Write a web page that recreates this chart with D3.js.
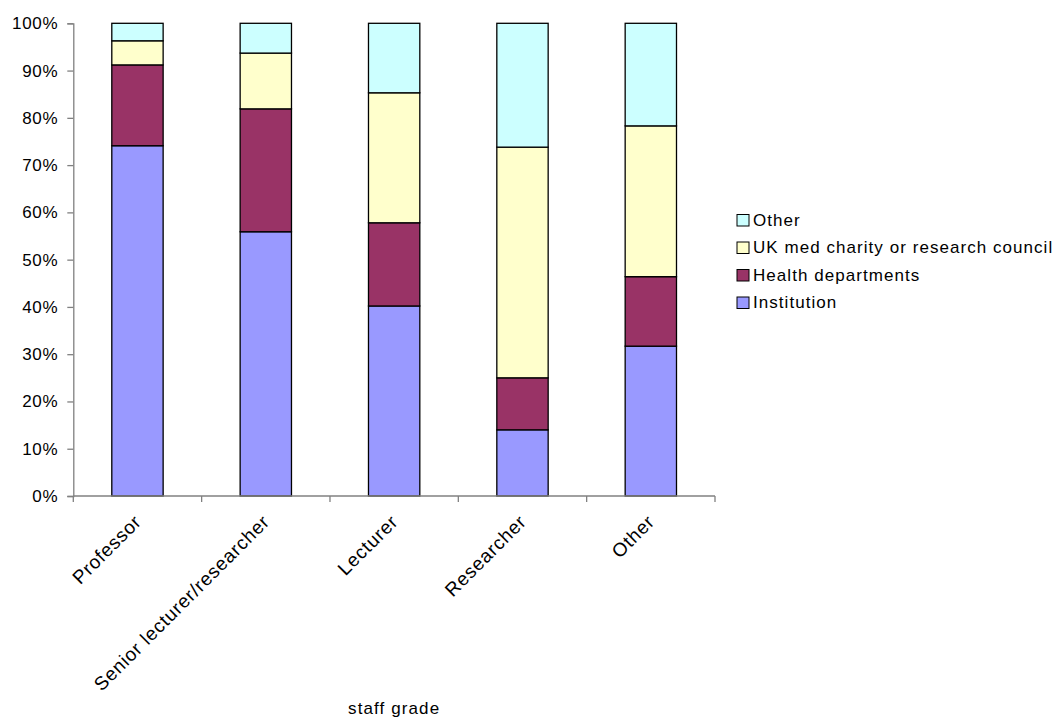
<!DOCTYPE html>
<html>
<head>
<meta charset="utf-8">
<script src="https://cdn.jsdelivr.net/npm/d3@7"></script>
<style>
  html, body { margin: 0; padding: 0; background: #fff; }
  svg { display: block; font-family: "Liberation Sans", Arial, sans-serif; }
</style>
</head>
<body>
<svg id="chart" width="1056" height="719"></svg>
<script>
// Funding source shares (%) by staff grade
const grades = ["Professor", "Senior lecturer/researcher", "Lecturer", "Researcher", "Other"];
const institution = [74.1, 55.9, 40.2, 14.0, 31.7];
const healthDepts = [17.1, 26.0, 17.6, 11.0, 14.7];
const ukMedCharity = [5.1, 11.8, 27.5, 48.8, 31.9];
const otherSource = [3.7, 6.3, 14.7, 26.2, 21.7];
const seriesNames = ["Institution", "Health departments", "UK med charity or research council", "Other"];
const seriesColors = ["#9999FF", "#993366", "#FFFFCC", "#CCFFFF"];
const yTicks = [0, 10, 20, 30, 40, 50, 60, 70, 80, 90, 100];
const xTitle = "staff grade";

const rows = grades.map((g, i) => ({
  grade: g,
  "Institution": institution[i],
  "Health departments": healthDepts[i],
  "UK med charity or research council": ukMedCharity[i],
  "Other": otherSource[i]
}));

const svg = d3.select("#chart");
const plotLeft = 73.3, plotRight = 715, plotTop = 23.3, plotBottom = 496;

const x = d3.scaleBand().domain(grades).range([plotLeft, plotRight]).paddingInner(0.6).paddingOuter(0.3);
const y = d3.scaleLinear().domain([0, 100]).range([plotBottom, plotTop]);
const color = d3.scaleOrdinal().domain(seriesNames).range(seriesColors);

const stacked = d3.stack().keys(seriesNames)(rows);

// Stacked bars
svg.append("g").selectAll("g")
  .data(stacked)
  .join("g")
  .attr("fill", d => color(d.key))
  .selectAll("rect")
  .data(d => d)
  .join("rect")
  .attr("x", d => x(d.data.grade))
  .attr("y", d => y(d[1]))
  .attr("width", x.bandwidth())
  .attr("height", d => y(d[0]) - y(d[1]))
  .attr("stroke", "#000")
  .attr("stroke-width", 1.3);

// Y axis
const yAxis = svg.append("g")
  .attr("transform", `translate(${plotLeft},0)`)
  .call(d3.axisLeft(y).tickValues(yTicks).tickFormat(d => d + "%").tickSize(6).tickPadding(9));
yAxis.select(".domain").attr("stroke", "#808080").attr("stroke-width", 1.3);
yAxis.selectAll(".tick line").attr("stroke", "#808080").attr("stroke-width", 1.3);
yAxis.selectAll(".tick text")
  .attr("font-size", 17).attr("fill", "#000")
  .attr("letter-spacing", 0.7)
  .attr("font-family", "Liberation Sans, Arial, sans-serif");

// X axis: ticks at category boundaries
const boundaries = d3.range(grades.length + 1).map(i => plotLeft + i * (plotRight - plotLeft) / grades.length);
const xg = svg.append("g");
xg.append("line")
  .attr("x1", plotLeft).attr("x2", plotRight).attr("y1", plotBottom).attr("y2", plotBottom)
  .attr("stroke", "#808080").attr("stroke-width", 1.3);
xg.selectAll("line.tk").data(boundaries).join("line")
  .attr("class", "tk")
  .attr("x1", d => d).attr("x2", d => d)
  .attr("y1", plotBottom).attr("y2", plotBottom + 6)
  .attr("stroke", "#808080").attr("stroke-width", 1.3);

// Rotated category labels
xg.selectAll("text").data(grades).join("text")
  .attr("transform", d => `translate(${x(d) + x.bandwidth() / 2 + 5},${plotBottom + 27}) rotate(-45)`)
  .attr("text-anchor", "end")
  .attr("font-size", 19)
  .attr("letter-spacing", 0.75)
  .attr("fill", "#000")
  .text(d => d);

// Axis title
svg.append("text")
  .attr("x", (plotLeft + plotRight) / 2).attr("y", 714)
  .attr("text-anchor", "middle")
  .attr("font-size", 17)
  .attr("letter-spacing", 1.1)
  .attr("fill", "#000")
  .text(xTitle);

// Legend (top entry is the last stacked series)
const legendItems = seriesNames.slice().reverse();
const lg = svg.append("g").attr("transform", "translate(737,0)");
const li = lg.selectAll("g").data(legendItems).join("g")
  .attr("transform", (d, i) => `translate(0,${225.5 + i * 27.5})`);
li.append("rect")
  .attr("x", 0).attr("y", -11).attr("width", 12).attr("height", 11.5)
  .attr("fill", d => color(d)).attr("stroke", "#000").attr("stroke-width", 1);
li.append("text")
  .attr("x", 16).attr("y", 0)
  .attr("font-size", 17)
  .attr("letter-spacing", 1.05)
  .attr("fill", "#000")
  .text(d => d);
</script>
</body>
</html>
